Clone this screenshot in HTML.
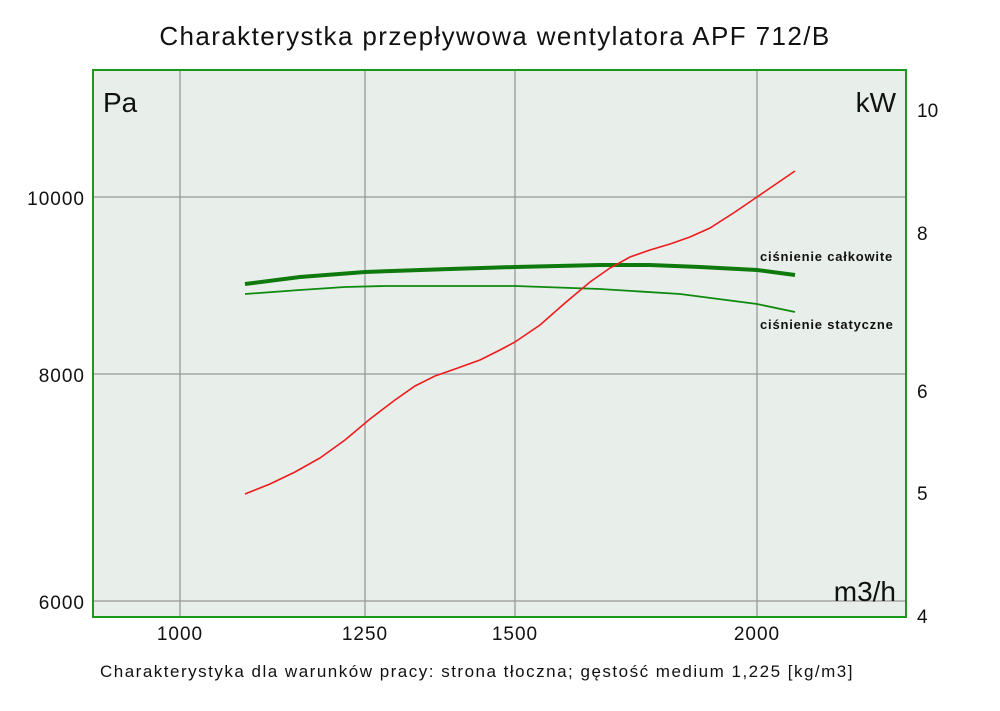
<!DOCTYPE html>
<html><head><meta charset="utf-8"><style>
body{margin:0;background:#fff;}
svg text{font-family:"Liberation Sans","DejaVu Sans",sans-serif;fill:#111;}
</style></head><body>
<svg width="1000" height="706" viewBox="0 0 1000 706" xmlns="http://www.w3.org/2000/svg">
<rect x="0" y="0" width="1000" height="706" fill="#fff"/>
<text x="495" y="45" font-size="26" text-anchor="middle" letter-spacing="1.4">Charakterystka przepływowa wentylatora APF 712/B</text>
<rect x="93" y="70" width="813" height="547" fill="#e8eeea"/>
<g stroke="#999" stroke-width="1.3">
<line x1="180" y1="70" x2="180" y2="617"/>
<line x1="365" y1="70" x2="365" y2="617"/>
<line x1="515" y1="70" x2="515" y2="617"/>
<line x1="757" y1="70" x2="757" y2="617"/>
<line x1="93" y1="197" x2="906" y2="197"/>
<line x1="93" y1="374" x2="906" y2="374"/>
<line x1="93" y1="601" x2="906" y2="601"/>
</g>
<rect x="93" y="70" width="813" height="547" fill="none" stroke="#1a9a1a" stroke-width="2"/>
<text x="103" y="112" font-size="28">Pa</text>
<text x="896" y="112" font-size="28" text-anchor="end">kW</text>
<text x="896" y="601" font-size="28" text-anchor="end">m3/h</text>
<g font-size="19" text-anchor="end" letter-spacing="1">
<text x="85" y="205">10000</text>
<text x="85" y="382">8000</text>
<text x="85" y="609">6000</text>
</g>
<g font-size="19">
<text x="917" y="117">10</text>
<text x="917" y="240">8</text>
<text x="917" y="398">6</text>
<text x="917" y="500">5</text>
<text x="917" y="623">4</text>
</g>
<g font-size="19" text-anchor="middle" letter-spacing="1">
<text x="180" y="640">1000</text>
<text x="365" y="640">1250</text>
<text x="515" y="640">1500</text>
<text x="757" y="640">2000</text>
</g>
<text x="477" y="677" font-size="17" text-anchor="middle" letter-spacing="1.5">Charakterystyka dla warunków pracy: strona tłoczna; gęstość medium 1,225 [kg/m3]</text>
<polyline fill="none" stroke="#0e7a0e" stroke-width="4" points="245,284 300,277 365,272 450,269 515,267 600,265 650,265 700,267 757,270 795,275"/>
<polyline fill="none" stroke="#0e8a0e" stroke-width="1.8" points="245,294 300,290 345,287 385,286 515,286 600,289 680,294 757,304 795,312"/>
<polyline fill="none" stroke="#ee1c1c" stroke-width="1.6" points="245,494 270,484 295,472 320,458 345,440 370,419 395,400 415,386 435,376 455,369 480,360 500,350 515,342 540,325 565,303 590,282 610,268 630,257 650,250 670,244 690,237 710,228 735,212 757,197 795,171"/>
<text x="760" y="261" font-size="13" font-weight="bold" letter-spacing="0.8">ciśnienie całkowite</text>
<text x="760" y="329" font-size="13" font-weight="bold" letter-spacing="0.8">ciśnienie statyczne</text>
</svg>
</body></html>
